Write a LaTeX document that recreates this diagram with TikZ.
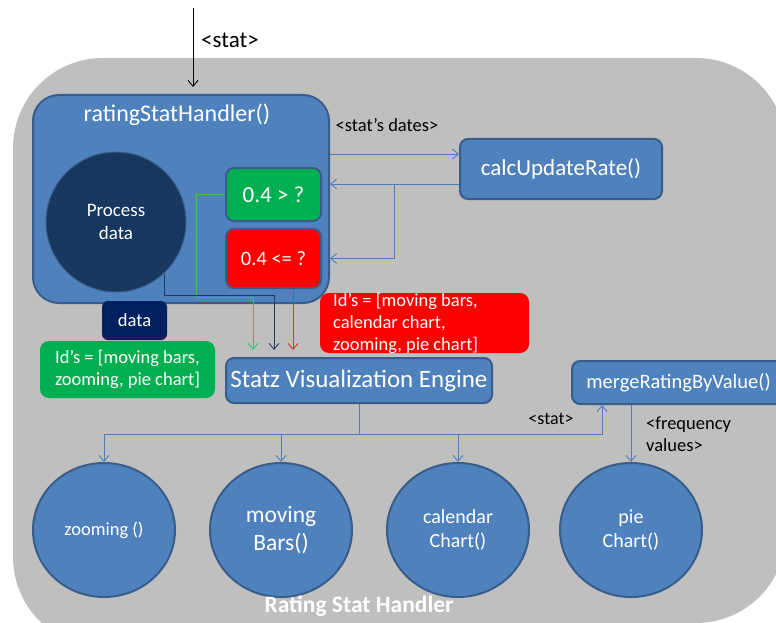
\documentclass[tikz,border=0pt]{standalone}
\usepackage{fontspec}
\setmainfont{Carlito}
\usetikzlibrary{arrows.meta,shapes.geometric,calc}

\definecolor{panel}{HTML}{BFBFBF}
\definecolor{blu}{HTML}{4F81BD}
\definecolor{edge}{HTML}{385D8A}
\definecolor{wire}{HTML}{4A7EBB}
\definecolor{deep}{HTML}{17375E}
\definecolor{navy}{HTML}{002060}
\definecolor{navyline}{HTML}{1F3864}
\definecolor{okgreen}{HTML}{00B050}
\definecolor{alarm}{HTML}{FF0000}

\newcommand\sz[2]{\fontsize{#1}{#2}\selectfont}

\tikzset{
  box/.style={draw=edge, line width=2pt, fill=blu, rounded corners=#1, text=white, inner sep=0pt},
  box/.default=8pt,
  bubble/.style={ellipse, draw=edge, line width=2pt, fill=blu, text=white,
    minimum width=142pt, minimum height=134pt, inner sep=0pt, align=center},
  flag/.style={rounded corners=9pt, text=white, inner sep=0pt},
  note/.style={text=black, inner sep=0pt},
  tip/.style={-{Straight Barb[length=6pt,width=10pt]}},
  flow/.style={tip, draw=wire, line width=0.9pt},
}

\begin{document}
\begin{tikzpicture}[x=1pt,y=-1pt]
\useasboundingbox (0,0) rectangle (776,623);

% grey handler panel
\begin{scope}
  \clip (0,0) rectangle (776,623);
  \fill[panel] (13,148) arc[start angle=180, end angle=90, radius=90pt]
    -- (696,58) arc[start angle=90, end angle=0, radius=90pt]
    -- (786,533) arc[start angle=0, end angle=-90, radius=90pt]
    -- (103,647) arc[start angle=270, end angle=180, radius=90pt] -- cycle;
\end{scope}

% rating handler with its inner parts
\node[box=26pt, minimum width=296pt, minimum height=208pt] (rating) at (181,199) {};
\node[text=white, inner sep=0pt, font=\sz{24}{28}] (ratingtitle) at (177,115) {ratingStatHandler()};
\node[circle, fill=deep, draw=edge, line width=1pt, minimum size=140pt, inner sep=0pt,
      text=white, align=center, font=\sz{19}{23}] (proc) at (116,222) {Process\\data};
\node[box, fill=okgreen, minimum width=95pt, minimum height=53pt, font=\sz{23}{27}] (gt) at (273.5,194.5) {0.4 > ?};
\node[box, fill=alarm, minimum width=95pt, minimum height=59pt, font=\sz{20.5}{25}] (le) at (273.5,258.5) {0.4 <= ?};

% side boxes
\node[box, minimum width=202pt, minimum height=60pt, font=\sz{23}{28}] (calc) at (561,169) {calcUpdateRate()};
\node[flag, fill=alarm, minimum width=209pt, minimum height=60pt] (redids) at (424.5,323) {};
\node[text=white, inner sep=0pt, align=left, anchor=west, font=\sz{18.5}{22}] (redtext) at (333,323)
  {Id’s = [moving bars,\\calendar chart,\\zooming, pie chart]};
\node[flag, fill=navy, rounded corners=6pt, minimum width=65pt, minimum height=39pt, font=\sz{18.5}{22}] (data) at (134.5,320.5) {data};
\node[flag, fill=okgreen, minimum width=175pt, minimum height=57pt, align=center, font=\sz{18.5}{21.5}] (greenids) at (127.5,369.5)
  {Id’s = [moving bars,\\zooming, pie chart]};
\node[box, minimum width=266pt, minimum height=45pt, font=\sz{25}{29}] (statz) at (359,380.5) {Statz Visualization Engine};
\node[box, minimum width=213pt, minimum height=43pt, font=\sz{20.5}{24}] (merge) at (678.5,382.5) {mergeRatingByValue()};

% visualisations
\node[bubble, font=\sz{18.5}{22}] (zoom) at (104,530) {zooming ()};
\node[bubble, font=\sz{23.5}{28}] (bars) at (281,530) {moving\\Bars()};
\node[bubble, font=\sz{20}{24}] (cal) at (458,530) {calendar\\Chart()};
\node[bubble, font=\sz{20}{24}] (pie) at (631,530) {pie\\Chart()};

\node[text=white, inner sep=0pt, font=\bfseries\sz{23.5}{27}] (paneltitle) at (359,606) {Rating Stat Handler};

% incoming stat
\coordinate (src) at (193,8);
\draw[tip, black, line width=0.9pt, shorten >=7pt] (src) -- (src |- rating.north);
\node[note, font=\sz{23}{27}] (statin) at (230,40) {<stat>};

% dates out and rate back
\draw[flow] ([yshift=15pt]calc.west -| rating.east) -- ([yshift=15pt]calc.west);
\node[note, font=\sz{18.5}{22}] (datesl) at (387,125) {<stat’s dates>};
\draw[flow] ([yshift=-15pt]calc.west) -- ([yshift=-15pt]calc.west -| rating.east);
\coordinate (fork) at (394,184);
\draw[flow] (fork) |- (rating.east |- le.center);

% decisions into the engine
\draw[tip, draw=okgreen!80!white, line width=0.9pt, shorten >=7pt]
  (gt.west) -| ($(statz.north)+(-163,-60)$) -| ([xshift=-106pt]statz.north);
\draw[tip, draw=navyline, line width=0.9pt, shorten >=7pt]
  (proc.-47) |- ($(statz.north)+(-85,-62)$) -- ([xshift=-85pt]statz.north);
\draw[tip, draw=alarm!85!white, line width=0.9pt, shorten >=7pt]
  ([xshift=19.5pt]le.south) -- ([xshift=-66pt]statz.north);

% engine to the charts
\coordinate (bus) at (359,434);
\draw[draw=wire, line width=0.9pt] (statz.south) -- (bus);
\draw[flow] (bus) -| (zoom.north);
\draw[flow] (bus) -| (bars.north);
\draw[flow] (bus) -| (cal.north);
\draw[flow] (bus) -| ([xshift=-76.5pt]merge.south);
\draw[flow] (merge.south -| pie.north) -- (pie.north);
\node[note, font=\sz{18}{22}] (statl) at (551,419) {<stat>};
\node[note, anchor=north west, align=left, font=\sz{18.5}{22}] (freql) at (646,417) {<frequency\\values>};
\end{tikzpicture}
\end{document}
